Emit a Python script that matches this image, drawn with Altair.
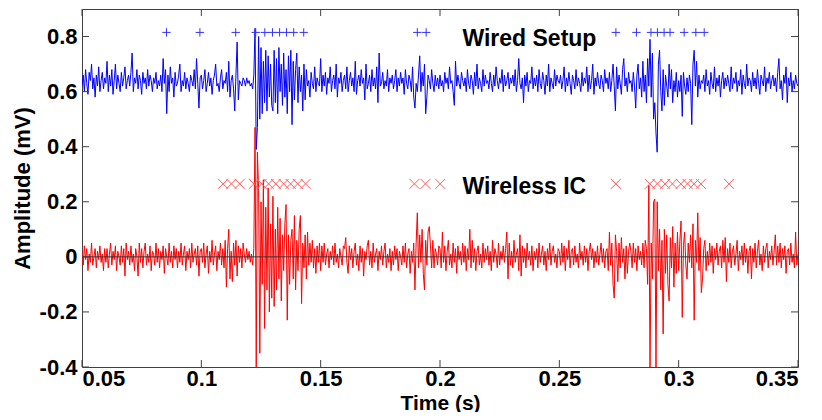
import altair as alt
import pandas as pd

T_START = 0.05
T_STEP = 0.0005

# Wired setup trace (mV), one row = 10 ms
wired = [
    0.62,0.66,0.60,0.68,0.63,0.59,0.67,0.64,0.70,0.61,0.65,0.58,0.66,0.62,0.69,0.60,0.64,0.67,0.61,0.65,
    0.63,0.71,0.60,0.66,0.62,0.68,0.59,0.64,0.70,0.61,0.66,0.63,0.60,0.67,0.62,0.65,0.69,0.61,0.64,0.66,
    0.62,0.67,0.74,0.60,0.65,0.63,0.68,0.61,0.66,0.64,0.59,0.67,0.63,0.65,0.61,0.68,0.62,0.66,0.64,0.60,
    0.65,0.63,0.67,0.61,0.64,0.62,0.66,0.60,0.72,0.63,0.68,0.52,0.66,0.60,0.69,0.63,0.65,0.58,0.67,0.62,
    0.63,0.66,0.70,0.60,0.64,0.62,0.67,0.61,0.65,0.63,0.60,0.66,0.64,0.62,0.68,0.61,0.72,0.63,0.54,0.65,
    0.66,0.61,0.64,0.68,0.60,0.63,0.67,0.62,0.65,0.59,0.64,0.66,0.70,0.62,0.63,0.60,0.65,0.68,0.61,0.64,
    0.63,0.67,0.60,0.71,0.58,0.64,0.66,0.61,0.53,0.66,0.78,0.57,0.64,0.63,0.62,0.65,0.64,0.62,0.65,0.63,
    0.64,0.62,0.63,0.61,0.66,0.83,0.39,0.47,0.80,0.50,0.76,0.52,0.71,0.56,0.75,0.53,0.73,0.58,0.70,0.55,
    0.53,0.75,0.56,0.72,0.52,0.76,0.60,0.70,0.55,0.74,0.58,0.68,0.52,0.73,0.60,0.75,0.48,0.71,0.57,0.68,
    0.74,0.56,0.69,0.60,0.66,0.53,0.70,0.57,0.68,0.62,0.64,0.58,0.67,0.63,0.61,0.69,0.60,0.65,0.63,0.62,
    0.72,0.60,0.66,0.62,0.67,0.59,0.65,0.63,0.69,0.60,0.64,0.66,0.61,0.70,0.58,0.65,0.63,0.67,0.60,0.64,
    0.66,0.61,0.69,0.60,0.64,0.67,0.62,0.65,0.60,0.71,0.59,0.64,0.66,0.62,0.68,0.63,0.65,0.57,0.70,0.61,
    0.63,0.66,0.60,0.68,0.62,0.65,0.61,0.69,0.56,0.74,0.62,0.63,0.67,0.61,0.64,0.62,0.68,0.60,0.65,0.63,
    0.66,0.61,0.64,0.68,0.60,0.65,0.62,0.67,0.63,0.65,0.59,0.68,0.63,0.61,0.66,0.64,0.60,0.69,0.58,0.54,
    0.63,0.60,0.66,0.73,0.60,0.67,0.62,0.70,0.52,0.58,0.66,0.64,0.61,0.68,0.63,0.60,0.66,0.62,0.65,0.61,
    0.66,0.62,0.64,0.60,0.67,0.63,0.65,0.61,0.69,0.63,0.64,0.60,0.55,0.71,0.62,0.66,0.63,0.61,0.67,0.64,
    0.62,0.65,0.60,0.68,0.63,0.61,0.66,0.64,0.59,0.67,0.62,0.70,0.61,0.65,0.63,0.60,0.68,0.62,0.66,0.63,
    0.64,0.61,0.67,0.63,0.60,0.66,0.62,0.69,0.64,0.61,0.65,0.63,0.68,0.60,0.66,0.62,0.64,0.67,0.61,0.65,
    0.63,0.66,0.62,0.68,0.60,0.64,0.72,0.63,0.61,0.65,0.56,0.66,0.62,0.67,0.60,0.64,0.63,0.69,0.61,0.65,
    0.62,0.66,0.60,0.68,0.63,0.61,0.67,0.64,0.59,0.66,0.62,0.70,0.60,0.65,0.63,0.61,0.68,0.62,0.66,0.64,
    0.63,0.66,0.61,0.64,0.69,0.60,0.65,0.62,0.67,0.63,0.59,0.66,0.64,0.61,0.68,0.62,0.65,0.63,0.60,0.67,
    0.62,0.65,0.63,0.69,0.60,0.66,0.61,0.64,0.70,0.59,0.65,0.62,0.67,0.63,0.61,0.66,0.64,0.60,0.68,0.63,
    0.65,0.61,0.67,0.60,0.64,0.70,0.62,0.53,0.69,0.61,0.66,0.63,0.59,0.68,0.72,0.62,0.65,0.60,0.67,0.63,
    0.64,0.60,0.67,0.62,0.54,0.66,0.70,0.61,0.65,0.58,0.71,0.60,0.66,0.56,0.72,0.62,0.79,0.58,0.74,0.50,
    0.56,0.45,0.38,0.70,0.75,0.60,0.53,0.68,0.55,0.66,0.62,0.58,0.70,0.61,0.68,0.56,0.64,0.60,0.67,0.58,
    0.64,0.60,0.66,0.51,0.67,0.62,0.59,0.65,0.60,0.66,0.63,0.48,0.70,0.75,0.62,0.71,0.58,0.66,0.61,0.64,
    0.63,0.66,0.60,0.68,0.62,0.64,0.59,0.67,0.63,0.61,0.69,0.60,0.65,0.62,0.66,0.58,0.64,0.67,0.61,0.65,
    0.62,0.66,0.63,0.60,0.69,0.61,0.65,0.63,0.67,0.60,0.64,0.62,0.68,0.59,0.66,0.63,0.61,0.70,0.62,0.65,
    0.64,0.60,0.67,0.62,0.65,0.61,0.68,0.63,0.59,0.66,0.64,0.62,0.69,0.60,0.65,0.63,0.67,0.61,0.64,0.66,
    0.62,0.65,0.60,0.67,0.72,0.61,0.64,0.57,0.66,0.63,0.69,0.56,0.65,0.62,0.67,0.60,0.64,0.61,0.66,0.63,
    0.62,
]

# Wireless IC trace (mV), one row = 10 ms
wireless = [
    0.02,-0.03,0.04,-0.01,0.03,-0.05,0.01,-0.02,0.05,-0.03,0.00,0.03,-0.04,0.02,-0.01,0.04,-0.02,0.01,-0.05,0.03,
    -0.02,0.03,-0.04,0.01,0.05,-0.03,0.02,-0.01,0.04,-0.05,0.02,0.00,-0.03,0.04,-0.02,0.03,-0.07,0.05,-0.01,0.02,
    -0.03,0.04,-0.02,0.01,-0.05,0.03,0.00,-0.07,0.05,-0.02,0.03,-0.04,0.02,0.05,-0.03,0.01,-0.02,0.04,-0.05,0.02,
    0.01,-0.03,0.05,-0.02,0.03,-0.04,0.02,-0.01,0.04,-0.06,0.03,0.00,-0.03,0.05,-0.02,0.02,-0.04,0.04,-0.01,0.03,
    -0.04,0.02,-0.02,0.05,-0.03,0.01,0.04,-0.05,0.02,-0.01,0.03,-0.04,0.05,-0.02,0.01,0.03,-0.03,0.04,-0.07,0.02,
    0.03,-0.02,0.05,-0.04,0.01,0.04,-0.06,0.02,-0.02,0.06,-0.03,0.01,0.04,-0.05,0.02,-0.01,0.05,-0.03,0.03,-0.04,
    0.06,-0.11,0.03,0.10,-0.08,0.02,-0.09,0.05,-0.03,0.06,-0.07,0.04,-0.02,0.03,-0.04,0.05,0.01,-0.02,0.03,-0.01,
    0.02,-0.02,0.01,-0.03,0.03,0.47,-0.40,0.38,0.24,-0.35,0.20,-0.10,0.28,-0.26,0.18,-0.12,0.25,-0.20,0.12,-0.15,
    0.22,-0.18,0.10,-0.12,0.18,-0.08,0.14,-0.16,0.08,-0.05,0.12,0.19,-0.23,0.08,-0.10,0.06,0.10,-0.08,0.15,-0.12,
    0.06,-0.05,0.10,0.15,-0.17,0.05,-0.04,0.08,-0.08,0.09,-0.03,0.05,-0.02,0.06,-0.04,0.03,-0.06,0.04,-0.02,0.05,
    -0.05,0.04,-0.02,0.05,-0.03,0.01,0.03,-0.04,0.02,-0.01,0.04,-0.03,0.05,-0.02,0.01,-0.04,0.03,0.00,-0.03,0.04,
    0.03,0.07,-0.02,-0.06,0.04,-0.01,0.03,-0.04,0.02,0.05,-0.03,0.01,-0.05,0.04,-0.02,0.03,-0.07,0.02,-0.01,0.04,
    0.06,-0.03,0.02,-0.04,0.05,-0.02,0.01,0.03,-0.05,0.02,-0.01,0.04,-0.03,0.02,0.05,-0.04,0.01,-0.02,0.03,-0.05,
    0.02,-0.03,0.04,-0.01,0.03,-0.05,0.02,0.00,-0.03,0.04,-0.02,0.05,-0.04,0.01,0.03,-0.06,0.02,-0.02,0.05,-0.12,
    0.05,0.16,-0.04,0.08,-0.02,0.10,-0.06,-0.12,0.06,-0.03,0.09,0.11,0.04,-0.04,0.06,-0.04,0.03,0.01,-0.03,0.04,
    0.03,-0.04,0.09,-0.02,0.04,-0.05,0.02,0.06,-0.03,0.01,-0.04,0.05,-0.02,0.03,-0.06,0.04,-0.01,0.02,-0.03,0.05,
    -0.02,0.04,-0.05,0.03,-0.01,0.10,-0.04,0.06,-0.02,0.03,-0.05,0.02,0.04,-0.03,0.01,-0.04,0.05,-0.02,0.03,-0.01,
    0.04,-0.03,0.02,-0.05,0.06,-0.02,0.03,0.01,-0.04,0.05,-0.03,0.02,-0.01,0.04,-0.02,0.03,0.09,-0.08,0.05,-0.03,
    0.02,-0.04,0.06,-0.02,0.01,0.03,-0.05,0.08,-0.07,0.04,-0.02,0.03,-0.04,0.05,-0.01,0.02,-0.03,0.04,-0.05,0.02,
    -0.01,0.03,-0.04,0.05,-0.02,0.01,0.04,-0.03,0.02,-0.05,0.03,-0.01,0.05,-0.03,0.02,0.04,-0.02,0.01,-0.04,0.03,
    0.02,-0.03,0.05,-0.02,0.04,-0.05,0.03,-0.01,0.06,-0.04,0.02,0.03,-0.03,0.04,-0.02,0.01,-0.04,0.05,-0.01,0.02,
    -0.03,0.04,-0.02,0.03,-0.05,0.02,0.05,-0.01,0.03,-0.04,0.02,-0.02,0.04,-0.03,0.01,0.05,-0.02,0.03,-0.04,0.02,
    0.03,-0.05,0.09,-0.03,0.05,-0.10,-0.15,0.08,0.02,-0.09,0.05,-0.04,0.07,-0.02,0.03,-0.08,0.04,-0.06,0.02,0.05,
    0.02,-0.04,0.05,-0.02,0.03,-0.05,0.04,-0.01,0.02,-0.03,0.05,-0.04,0.06,0.03,-0.10,0.26,-0.40,0.05,-0.08,0.20,
    0.21,-0.40,0.20,-0.05,0.10,-0.12,0.06,-0.28,0.10,-0.06,0.08,-0.10,-0.16,0.07,-0.04,0.11,-0.11,0.05,-0.06,0.09,
    -0.05,0.06,0.13,-0.22,0.04,0.09,-0.03,-0.08,0.05,-0.02,0.08,-0.04,0.12,-0.23,0.06,-0.02,0.16,-0.05,0.07,-0.13,
    -0.08,0.03,0.06,-0.05,0.02,-0.03,0.05,-0.02,0.04,-0.06,0.03,-0.01,0.05,-0.03,0.02,0.04,-0.04,0.06,-0.02,0.07,
    -0.09,0.03,-0.02,0.05,-0.04,0.02,0.04,-0.03,0.01,0.06,-0.05,0.02,-0.01,0.04,-0.03,0.05,-0.02,0.03,-0.06,0.02,
    0.04,-0.08,0.03,-0.02,0.05,-0.04,0.02,0.06,-0.03,0.01,-0.05,0.04,-0.02,0.03,0.05,-0.04,0.02,-0.01,0.04,-0.03,
    0.02,0.08,-0.03,0.04,-0.02,0.05,-0.04,0.03,-0.01,0.04,-0.06,0.02,0.03,-0.03,0.05,-0.02,0.01,-0.04,0.09,-0.03,
    0.01,
]

# Detected events
wired_events = [0.0854, 0.0994, 0.1144, 0.1228, 0.1266, 0.1298, 0.1328, 0.1357, 0.1387, 0.1429,
                0.1905, 0.1942,
                0.2737, 0.2823, 0.2884, 0.2911, 0.2939, 0.2964, 0.3023, 0.3072, 0.3107]
wired_marker_level = 0.815
wireless_events = [0.1091, 0.1126, 0.1161, 0.1220, 0.1253, 0.1282, 0.1312, 0.1345, 0.1374, 0.1404, 0.1437,
                   0.1893, 0.1939, 0.2001,
                   0.2737, 0.2879, 0.2911, 0.2943, 0.2974, 0.3009, 0.3037, 0.3065, 0.3093, 0.3211]
wireless_marker_level = 0.265

labels = ["Wired Setup", "Wireless IC"]
label_x = [0.2094, 0.2094]
label_y = [0.767, 0.230]

x_ticks = [0.05, 0.1, 0.15, 0.2, 0.25, 0.3, 0.35]
y_ticks = [-0.4, -0.2, 0, 0.2, 0.4, 0.6, 0.8]

W, H = 716, 358
FONT = "Liberation Sans"
AX = "#404040"

df_wired = pd.DataFrame({"t": [round(T_START + i * T_STEP, 4) for i in range(len(wired))], "v": wired})
df_wireless = pd.DataFrame({"t": [round(T_START + i * T_STEP, 4) for i in range(len(wireless))], "v": wireless})
df_we = pd.DataFrame({"t": wired_events, "v": [wired_marker_level] * len(wired_events)})
df_le = pd.DataFrame({"t": wireless_events, "v": [wireless_marker_level] * len(wireless_events)})
df_lab = pd.DataFrame({"t": label_x, "v": label_y, "txt": labels})
df_xt = pd.DataFrame({"t": x_ticks})
df_yt = pd.DataFrame({"v": y_ticks})

xscale = alt.Scale(domain=[0.05, 0.35], nice=False, zero=False)
yscale = alt.Scale(domain=[-0.4, 0.9], nice=False, zero=False)

X = alt.X("t:Q", scale=xscale, title="Time (s)",
          axis=alt.Axis(values=x_ticks, labelExpr="'' + datum.value", ticks=False, domain=False,
                        grid=False, labelPadding=1, titleFontSize=21,
                        titleBaseline="alphabetic", titleY=42))
Y = alt.Y("v:Q", scale=yscale, title="Amplitude (mV)",
          axis=alt.Axis(values=y_ticks, labelExpr="'' + datum.value", ticks=False, domain=False,
                        grid=False, labelPadding=5, titlePadding=5))

line_w = alt.Chart(df_wired).mark_line(color="#0000ff", strokeWidth=1, clip=True).encode(x=X, y=Y)
line_l = alt.Chart(df_wireless).mark_line(color="#ff0000", strokeWidth=1, clip=True).encode(x="t:Q", y="v:Q")
zero = alt.Chart(pd.DataFrame({"v": [0]})).mark_rule(color="#333333", strokeWidth=1).encode(y="v:Q")

plus = alt.Chart(df_we).mark_point(shape="M-1,0L1,0M0,-1L0,1", filled=False, size=70,
                                   color="#3333ff", strokeWidth=1, opacity=1).encode(x="t:Q", y="v:Q")
cross = alt.Chart(df_le).mark_point(shape="M-1,-1L1,1M1,-1L-1,1", filled=False, size=100,
                                    color="#ff5a5a", strokeWidth=1, opacity=1).encode(x="t:Q", y="v:Q")

txt = alt.Chart(df_lab).mark_text(align="left", baseline="alphabetic", font=FONT, fontSize=23,
                                  fontWeight="bold", color="black").encode(x="t:Q", y="v:Q", text="txt:N")

TL = 7
xt_bot = alt.Chart(df_xt).mark_rule(color=AX).encode(x="t:Q", y=alt.value(H), y2=alt.value(H - TL))
xt_top = alt.Chart(df_xt).mark_rule(color=AX).encode(x="t:Q", y=alt.value(0), y2=alt.value(TL))
yt_left = alt.Chart(df_yt).mark_rule(color=AX).encode(y="v:Q", x=alt.value(0), x2=alt.value(TL))
yt_right = alt.Chart(df_yt).mark_rule(color=AX).encode(y="v:Q", x=alt.value(W), x2=alt.value(W - TL))

chart = alt.layer(
    line_w, line_l, zero, plus, cross, txt, xt_bot, xt_top, yt_left, yt_right
).properties(
    width=W, height=H,
    padding={"left": 74, "top": 1, "right": 16, "bottom": 45},
    autosize=alt.AutoSizeParams(type="none"),
).configure_view(
    stroke=AX, strokeWidth=1
).configure_axis(
    labelFont=FONT, labelFontSize=22, labelFontWeight="bold", labelColor="black",
    titleFont=FONT, titleFontSize=22, titleFontWeight="bold", titleColor="black",
)

chart.save("out.html", embed_options={"renderer": "svg", "actions": False})
